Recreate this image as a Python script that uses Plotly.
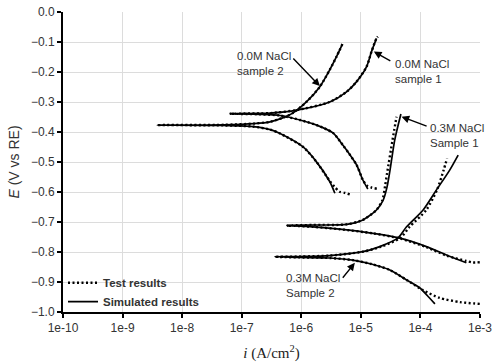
import plotly.graph_objects as go

# ---------------- data (current density A/cm2, potential V vs RE) ----------------
# 0.0M NaCl sample 1
s00_1_sim_i = [1.31e-5, 1.08e-5, 8.5e-6, 6.5e-6, 5.05e-6, 3.4e-6, 1.81e-6, 9.5e-7, 4.4e-7, 2.0e-7, 6.3e-8,
               2.0e-7, 3.0e-7, 8.4e-7, 3.0e-6, 5.75e-6, 8.5e-6, 1.25e-5, 1.51e-5, 1.83e-5]
s00_1_sim_E = [-0.590, -0.560, -0.510, -0.475, -0.445, -0.403, -0.377, -0.360, -0.345, -0.341, -0.339,
               -0.338, -0.337, -0.327, -0.300, -0.266, -0.232, -0.182, -0.132, -0.088]
s00_1_test_i = [1.85e-5, 1.5e-5, 1.25e-5, 1.08e-5, 8.5e-6, 6.5e-6, 5.05e-6, 3.4e-6, 1.81e-6, 9.5e-7, 4.4e-7,
                2.0e-7, 6.3e-8, 2.0e-7, 3.0e-7, 8.4e-7, 3.0e-6, 5.75e-6, 8.5e-6, 1.25e-5, 1.51e-5, 1.83e-5, 1.93e-5]
s00_1_test_E = [-0.589, -0.585, -0.578, -0.560, -0.510, -0.475, -0.445, -0.403, -0.377, -0.360, -0.345,
                -0.341, -0.339, -0.338, -0.337, -0.327, -0.300, -0.266, -0.232, -0.182, -0.132, -0.088, -0.082]

# 0.0M NaCl sample 2
s00_2_sim_i = [3.66e-6, 3.0e-6, 1.76e-6, 1.06e-6, 4.4e-7, 3.0e-7, 1.55e-7, 5e-8, 3.8e-9, 5e-8, 1.6e-7,
               3.0e-7, 5.0e-7, 7.2e-7, 1.23e-6, 2.05e-6, 3.0e-6, 3.9e-6, 4.9e-6]
s00_2_sim_E = [-0.604, -0.565, -0.497, -0.449, -0.405, -0.392, -0.382, -0.378, -0.377, -0.376, -0.372,
               -0.366, -0.352, -0.337, -0.299, -0.249, -0.193, -0.149, -0.107]
s00_2_test_i = [6.5e-6, 5.4e-6, 4.4e-6, 3.6e-6, 3.05e-6, 1.76e-6, 1.06e-6, 4.4e-7, 3.0e-7, 1.55e-7, 5e-8, 3.8e-9,
                5e-8, 1.6e-7, 3.0e-7, 5.0e-7, 7.2e-7, 1.23e-6, 2.05e-6, 3.0e-6, 3.9e-6, 4.9e-6]
s00_2_test_E = [-0.608, -0.603, -0.599, -0.582, -0.565, -0.497, -0.449, -0.405, -0.392, -0.382, -0.378, -0.377,
                -0.376, -0.372, -0.366, -0.352, -0.337, -0.299, -0.249, -0.193, -0.149, -0.107]

# 0.3M NaCl sample 1
s03_1_sim_i = [5.9e-4, 2.74e-4, 1.26e-4, 4.5e-5, 1.61e-5, 4.4e-6, 1.57e-6, 8e-7, 5.7e-7, 8e-7, 1.57e-6,
               5.75e-6, 1.08e-5, 1.83e-5, 2.37e-5, 2.76e-5, 3.15e-5, 3.7e-5, 4.7e-5]
s03_1_sim_E = [-0.836, -0.810, -0.782, -0.754, -0.738, -0.724, -0.716, -0.713, -0.712, -0.711, -0.710,
               -0.708, -0.693, -0.660, -0.627, -0.582, -0.516, -0.427, -0.340]
s03_1_test_i = [9.9e-4, 7.6e-4, 5.9e-4, 2.74e-4, 1.26e-4, 4.5e-5, 1.61e-5, 4.4e-6, 1.57e-6, 8e-7, 5.7e-7, 8e-7,
                1.57e-6, 5.75e-6, 1.08e-5, 1.83e-5, 2.3e-5, 2.55e-5, 2.76e-5, 3.4e-5, 3.97e-5]
s03_1_test_E = [-0.834, -0.835, -0.830, -0.812, -0.784, -0.755, -0.738, -0.724, -0.716, -0.713, -0.712, -0.711,
                -0.710, -0.708, -0.693, -0.660, -0.627, -0.580, -0.537, -0.427, -0.349]

# 0.3M NaCl sample 2
s03_2_sim_i = [1.75e-4, 1.3e-4, 9.8e-5, 5.85e-5, 3.07e-5, 1.5e-5, 7.3e-6, 3.0e-6, 9.5e-7, 3.6e-7, 9.5e-7,
               3.0e-6, 1.08e-5, 2.08e-5, 4.2e-5, 5.85e-5, 1.11e-4, 1.86e-4, 3.1e-4, 4.3e-4]
s03_2_sim_E = [-0.973, -0.945, -0.920, -0.893, -0.860, -0.840, -0.827, -0.820, -0.818, -0.816, -0.815,
               -0.812, -0.799, -0.782, -0.753, -0.716, -0.660, -0.593, -0.527, -0.477]
s03_2_test_i = [9.9e-4, 4.6e-4, 2.1e-4, 1.1e-4, 5.85e-5, 3.07e-5, 1.5e-5, 7.3e-6, 3.0e-6, 9.5e-7, 3.6e-7, 9.5e-7,
                3.0e-6, 1.08e-5, 2.2e-5, 4.6e-5, 6.6e-5, 1.25e-4, 1.9e-4, 2.45e-4, 2.8e-4]
s03_2_test_E = [-0.973, -0.967, -0.953, -0.927, -0.893, -0.860, -0.840, -0.827, -0.820, -0.818, -0.816, -0.815,
                -0.812, -0.799, -0.782, -0.753, -0.716, -0.660, -0.593, -0.527, -0.488]

x_tick_vals = [1e-10, 1e-9, 1e-8, 1e-7, 1e-6, 1e-5, 1e-4, 1e-3]
x_tick_text = ["1e-10", "1e-9", "1e-8", "1e-7", "1e-6", "1e-5", "1e-4", "1e-3"]

legend_names = ["<b>Test results</b>", "<b>Simulated results</b>"]

# ---------------- figure ----------------
FONT = "Liberation Sans, Arial, sans-serif"
fig = go.Figure()

tests = [(s00_1_test_i, s00_1_test_E), (s00_2_test_i, s00_2_test_E),
         (s03_1_test_i, s03_1_test_E), (s03_2_test_i, s03_2_test_E)]
sims = [(s00_1_sim_i, s00_1_sim_E), (s00_2_sim_i, s00_2_sim_E),
        (s03_1_sim_i, s03_1_sim_E), (s03_2_sim_i, s03_2_sim_E)]

for k, (xi, ye) in enumerate(tests):
    fig.add_trace(go.Scatter(x=xi, y=ye, mode="lines", name=legend_names[0],
                             showlegend=(k == 0), legendgroup="test",
                             line=dict(color="black", width=2.4, dash="2px,2.5px",
                                       shape="spline", smoothing=0.7)))
for k, (xi, ye) in enumerate(sims):
    fig.add_trace(go.Scatter(x=xi, y=ye, mode="lines", name=legend_names[1],
                             showlegend=(k == 0), legendgroup="sim",
                             line=dict(color="black", width=1.7, shape="spline", smoothing=0.7)))

txt_font = dict(family=FONT, size=11.5, color="#333")
labels = [
    ("0.0M NaCl<br>sample 2", -7.114, -0.170),
    ("0.0M NaCl<br>sample 1", -4.463, -0.198),
    ("0.3M NaCl<br>Sample 1", -3.871, -0.413),
    ("0.3M NaCl<br>Sample 2", -6.292, -0.910),
]
for t, x, y in labels:
    fig.add_annotation(x=x, y=y, text=t, showarrow=False, xanchor="left", yanchor="middle",
                       align="left", font=txt_font)

arrows = [
    (-5.688, -0.247, -6.158, -0.150),
    (-4.782, -0.132, -4.480, -0.166),
    (-4.317, -0.349, -3.871, -0.382),
    (-5.101, -0.836, -5.324, -0.891),
]
for x, y, ax, ay in arrows:
    fig.add_annotation(x=x, y=y, ax=ax, ay=ay, xref="x", yref="y", axref="x", ayref="y",
                       text="", showarrow=True, arrowhead=2, arrowsize=1.1, arrowwidth=1.4,
                       arrowcolor="black")

fig.update_layout(
    width=493, height=364,
    margin=dict(l=63, r=13, t=12, b=52),
    plot_bgcolor="white", paper_bgcolor="white",
    font=dict(family=FONT, size=12, color="#333"),
    legend=dict(x=0.0, y=-0.014, xanchor="left", yanchor="bottom", bgcolor="rgba(0,0,0,0)",
                font=dict(family=FONT, size=11.5, color="#333"), tracegroupgap=0, itemwidth=30),
)
fig.update_xaxes(type="log", range=[-10, -3], tickvals=x_tick_vals, ticktext=x_tick_text,
                 showgrid=True, gridcolor="#dcdcdc", gridwidth=1,
                 showline=True, linecolor="black", linewidth=2,
                 ticks="outside", ticklen=4, tickcolor="black", tickwidth=1.5,
                 tickfont=dict(family=FONT, size=12, color="#333"),
                 title=dict(text="<i>i</i> (A/cm<sup>2</sup>)", standoff=13,
                            font=dict(family="Liberation Serif, Times New Roman, serif", size=15, color="#222")),
                 zeroline=False, automargin=False)
fig.update_yaxes(range=[-1, 0], dtick=0.1, tick0=0, tickformat=".1f",
                 showgrid=True, gridcolor="#dcdcdc", gridwidth=1,
                 showline=True, linecolor="black", linewidth=2,
                 ticks="outside", ticklen=4, tickcolor="black", tickwidth=1.5,
                 tickfont=dict(family=FONT, size=12, color="#333"),
                 title=dict(text="<i>E</i> (V vs RE)", standoff=8,
                            font=dict(family=FONT, size=14, color="#333")),
                 zeroline=False, automargin=False)

fig.write_html("out.html")
